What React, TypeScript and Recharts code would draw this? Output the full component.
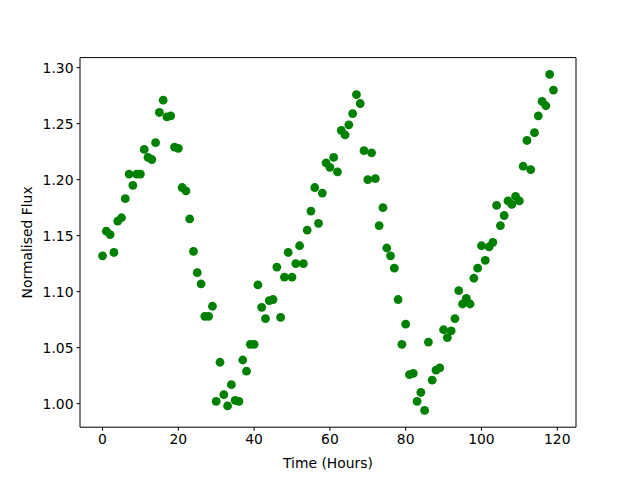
import { ScatterChart, Scatter, XAxis, YAxis, ReferenceLine } from "recharts";

// hourly samples, 0..119 h
const hours = Array.from({ length: 120 }, (_, i) => i);

const flux = [
  1.132, 1.154, 1.151, 1.135, 1.163, 1.166, 1.183, 1.205, 1.195, 1.205,
  1.205, 1.227, 1.220, 1.218, 1.233, 1.260, 1.271, 1.256, 1.257, 1.229,
  1.228, 1.193, 1.190, 1.165, 1.136, 1.117, 1.107, 1.078, 1.078, 1.087,
  1.002, 1.037, 1.008, 0.998, 1.017, 1.003, 1.002, 1.039, 1.029, 1.053,
  1.053, 1.106, 1.086, 1.076, 1.092, 1.093, 1.122, 1.077, 1.113, 1.135,
  1.113, 1.125, 1.141, 1.125, 1.155, 1.172, 1.193, 1.161, 1.188, 1.215,
  1.211, 1.220, 1.207, 1.244, 1.240, 1.249, 1.259, 1.276, 1.268, 1.226,
  1.200, 1.224, 1.201, 1.159, 1.175, 1.139, 1.132, 1.121, 1.093, 1.053,
  1.071, 1.026, 1.027, 1.002, 1.010, 0.994, 1.055, 1.021, 1.030, 1.032,
  1.066, 1.059, 1.065, 1.076, 1.101, 1.089, 1.094, 1.089, 1.112, 1.121,
  1.141, 1.128, 1.140, 1.144, 1.177, 1.159, 1.168, 1.181, 1.178, 1.185,
  1.181, 1.212, 1.235, 1.209, 1.242, 1.257, 1.270, 1.266, 1.294, 1.280,
];

const xTicks = [0, 20, 40, 60, 80, 100, 120];
const yTicks = [1.0, 1.05, 1.1, 1.15, 1.2, 1.25, 1.3];

const data = hours.map((h, i) => ({ t: h, f: flux[i] }));

const font = "'DejaVu Sans', sans-serif";
const tickStyle = { fill: "#000", fontSize: 13.9, fontFamily: font };
const xDomain: [number, number] = [-5.95, 124.95];
const yDomain: [number, number] = [0.979, 1.309];

const Dot = (props: any) => <circle cx={props.cx} cy={props.cy} r={4.4} fill="#008000" />;

export default function App() {
  return (
    <div style={{ position: "absolute", left: 0, top: 0, background: "#fff" }}>
      <ScatterChart width={640} height={480} margin={{ top: 57.6, right: 64, bottom: 8, left: 0 }}>
        <XAxis
          xAxisId="b"
          dataKey="t"
          type="number"
          domain={xDomain}
          ticks={xTicks}
          interval={0}
          allowDataOverflow
          height={44.8}
          tickSize={3.5}
          tickMargin={3}
          tick={tickStyle}
          axisLine={{ stroke: "#000" }}
          tickLine={{ stroke: "#000" }}
          label={{ value: "Time (Hours)", position: "insideBottom", offset: 4, style: { fill: "#000", fontSize: 13.9, fontFamily: font } }}
        />
        <YAxis
          yAxisId="l"
          dataKey="f"
          type="number"
          domain={yDomain}
          ticks={yTicks}
          interval={0}
          allowDataOverflow
          width={80}
          tickSize={3.5}
          tickMargin={3}
          tick={tickStyle}
          tickFormatter={(v: number) => v.toFixed(2)}
          axisLine={{ stroke: "#000" }}
          tickLine={{ stroke: "#000" }}
          label={{ value: "Normalised Flux", angle: -90, position: "insideLeft", offset: 27, style: { fill: "#000", fontSize: 13.9, fontFamily: font, textAnchor: "middle" } }}
        />
        {/* top and right spines */}
        <ReferenceLine xAxisId="b" yAxisId="l" y={yDomain[1]} stroke="#000" ifOverflow="visible" />
        <ReferenceLine xAxisId="b" yAxisId="l" x={xDomain[1]} stroke="#000" ifOverflow="visible" />
        <Scatter data={data} xAxisId="b" yAxisId="l" shape={Dot} isAnimationActive={false} />
      </ScatterChart>
    </div>
  );
}
